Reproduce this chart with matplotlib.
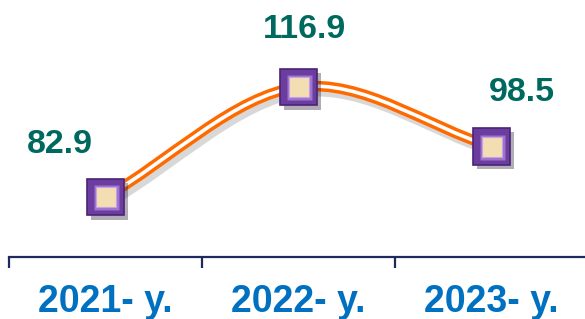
import matplotlib
matplotlib.use("Agg")
import matplotlib.pyplot as plt
import matplotlib.patheffects as pe
from matplotlib.path import Path
from matplotlib.patches import PathPatch

# data
years = ["2021- y.", "2022- y.", "2023- y."]
values = [82.9, 116.9, 98.5]

# label offsets (points) relative to each marker
label_dx = [-33, 4, 22]
label_dy = [32, 35, 33]

LINE_COLOR = "#FF6A00"
VALUE_COLOR = "#00695F"
YEAR_COLOR = "#0070C0"
AXIS_COLOR = "#1F2A5C"

plt.rcParams["font.family"] = ["Liberation Sans", "DejaVu Sans"]

fig = plt.figure(figsize=(5.85, 3.19), dpi=100)
ax = fig.add_axes([9 / 585, 62 / 319, 579 / 585, 257 / 319])
ax.set_xlim(-0.5, 2.5)
ax.set_ylim(64.35, 143.8)

xs = list(range(len(values)))

# smooth curve through the points (cubic bezier, catmull-rom style tangents)
pts = list(zip(xs, values))
tangents = []
for i in range(len(pts)):
    p_prev = pts[max(i - 1, 0)]
    p_next = pts[min(i + 1, len(pts) - 1)]
    scale = 0.5 if 0 < i < len(pts) - 1 else 1.0
    tangents.append(((p_next[0] - p_prev[0]) * scale, (p_next[1] - p_prev[1]) * scale))

verts = [pts[0]]
codes = [Path.MOVETO]
for i in range(len(pts) - 1):
    p0, p1 = pts[i], pts[i + 1]
    t0, t1 = tangents[i], tangents[i + 1]
    c1 = (p0[0] + t0[0] / 3, p0[1] + t0[1] / 3)
    c2 = (p1[0] - t1[0] / 3, p1[1] - t1[1] / 3)
    verts += [c1, c2, p1]
    codes += [Path.CURVE4] * 3
curve = Path(verts, codes)

ax.add_patch(PathPatch(curve, fill=False, edgecolor=LINE_COLOR, lw=7.6, capstyle="round",
                       path_effects=[pe.SimpleLineShadow(offset=(2.5, -3), shadow_color="gray", alpha=0.3, linewidth=9),
                                     pe.Normal()], zorder=2))
ax.add_patch(PathPatch(curve, fill=False, edgecolor="white", lw=2.6, zorder=3))

# markers
ax.plot(xs, values, ls="none", marker="s", ms=26.5, mfc="#6A3D9E", mec="#4A2474", mew=1.2, zorder=4,
        path_effects=[pe.SimplePatchShadow(offset=(3, -3), alpha=0.35), pe.Normal()])
ax.plot(xs, values, ls="none", marker="s", ms=18, mfc="#9C74D2", mec="none", zorder=5)
ax.plot(xs, values, ls="none", marker="s", ms=14, mfc="#F3DDB2", mec="#C9A0E0", mew=0.8, zorder=6)

for x, v, dx, dy in zip(xs, values, label_dx, label_dy):
    ax.annotate(f"{v:.1f}", xy=(x, v), xytext=(dx, dy), textcoords="offset points",
                ha="center", va="baseline", fontsize=24.5, fontweight="bold", color=VALUE_COLOR,
                annotation_clip=False)

# category axis
for side in ["left", "right", "top"]:
    ax.spines[side].set_visible(False)
ax.spines["bottom"].set_color(AXIS_COLOR)
ax.spines["bottom"].set_linewidth(1.6)
ax.set_yticks([])
ax.set_xticks([-0.5, 0.5, 1.5, 2.5])
ax.set_xticklabels([])
ax.tick_params(axis="x", direction="out", length=8, width=1.6, color=AXIS_COLOR)

for x, lab in zip(xs, years):
    ax.annotate(lab, xy=(x, 0), xycoords=ax.get_xaxis_transform(), xytext=(0, -39.5),
                textcoords="offset points", ha="center", va="baseline", fontsize=27,
                fontweight="bold", color=YEAR_COLOR, annotation_clip=False)

fig.savefig("out.png", dpi=100)
